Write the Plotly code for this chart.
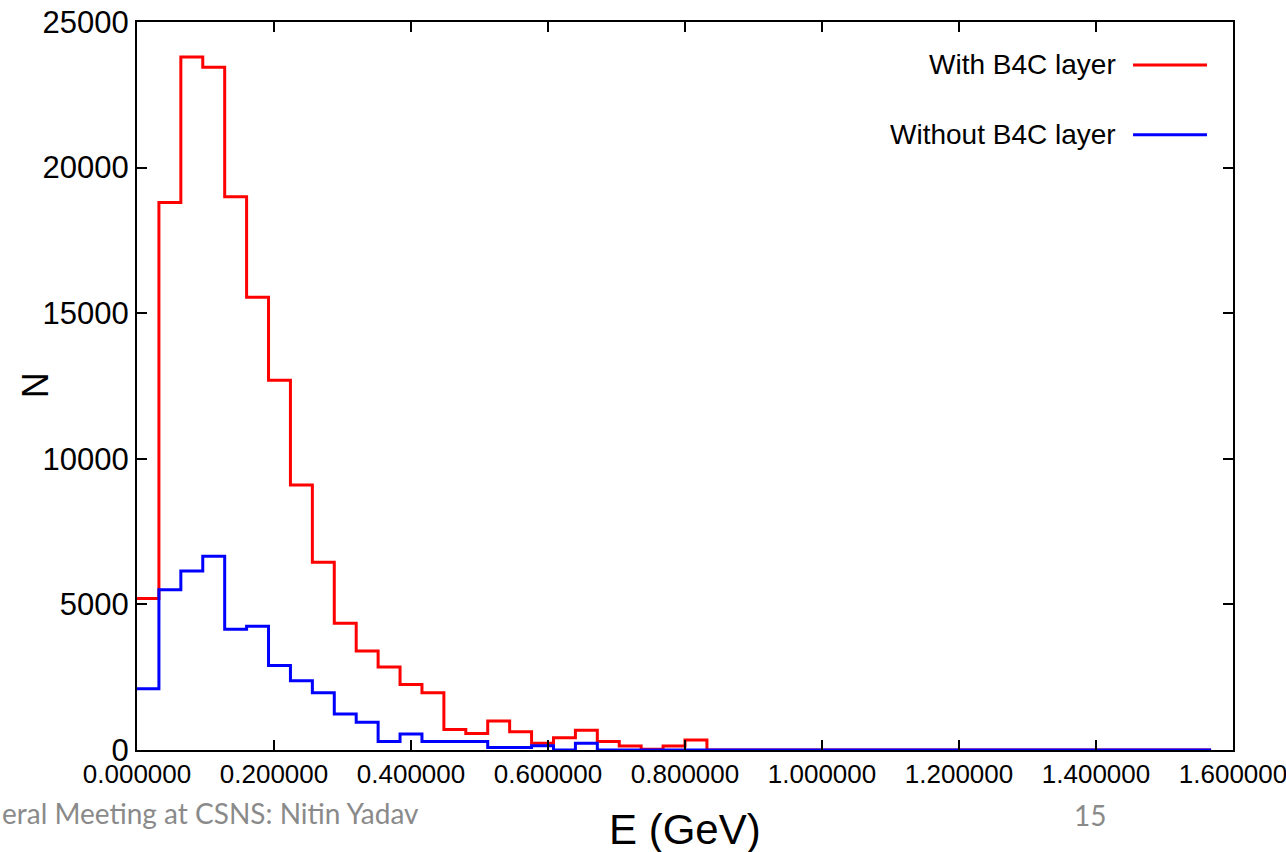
import numpy as np
import plotly.graph_objects as go

# Energy deposit histogram: 50 bins of 0.032 GeV starting at 0
BIN_WIDTH = 0.032
N_BINS = 50
bin_edges = np.arange(N_BINS) * BIN_WIDTH

counts_with_b4c = [
    5200, 18800, 23800, 23450, 19000, 15550, 12700, 9100, 6450, 4350,
    3400, 2850, 2250, 1970, 700, 570, 1000, 630, 230, 420,
    680, 290, 140, 30, 140, 340, 0, 0, 0, 0,
    0, 0, 0, 0, 0, 0, 0, 0, 0, 0,
    0, 0, 0, 0, 0, 0, 0, 0, 0, 0,
]
counts_without_b4c = [
    2100, 5500, 6150, 6650, 4150, 4250, 2900, 2380, 1970, 1240,
    950, 290, 550, 290, 290, 290, 90, 90, 150, 0,
    230, 0, 0, 0, 0, 0, 0, 0, 0, 0,
    0, 0, 0, 0, 0, 0, 0, 0, 0, 0,
    0, 0, 0, 0, 0, 0, 0, 0, 0, 0,
]

x_ticks = [0.0, 0.2, 0.4, 0.6, 0.8, 1.0, 1.2, 1.4, 1.6]
y_ticks = [0, 5000, 10000, 15000, 20000, 25000]

RED = "#ff0000"
BLUE = "#0000ff"
FONT = "Liberation Sans, Arial, sans-serif"
FOOTER_FONT = "Lato, sans-serif"

fig = go.Figure()
fig.add_trace(go.Scatter(x=bin_edges, y=counts_with_b4c, mode="lines",
                         line=dict(color=RED, width=3, shape="hv"),
                         name="With B4C layer", showlegend=False))
fig.add_trace(go.Scatter(x=bin_edges, y=counts_without_b4c, mode="lines",
                         line=dict(color=BLUE, width=3, shape="hv"),
                         name="Without B4C layer", showlegend=False))

axis_common = dict(showgrid=False, zeroline=False, showline=True, linecolor="black",
                   linewidth=2, mirror="ticks", ticks="inside", ticklen=10,
                   tickwidth=2, tickcolor="black", automargin=False,
                   ticklabeloverflow="allow")

fig.update_xaxes(range=[0, 1.6], tickvals=x_ticks,
                 ticktext=[f"{v:.6f}" for v in x_ticks],
                 tickfont=dict(family=FONT, size=26, color="black"),
                 **axis_common)
fig.update_yaxes(range=[0, 25000], tickvals=y_ticks,
                 ticktext=[str(v) for v in y_ticks],
                 tickfont=dict(family=FONT, size=31, color="black"),
                 **axis_common)

annotations = [
    dict(text="N", x=-0.093, y=0.501, xref="paper", yref="paper", textangle=-90,
         xanchor="center", yanchor="middle", showarrow=False,
         font=dict(family=FONT, size=36, color="black")),
    dict(text="E (GeV)", x=0.5, y=-0.109, xref="paper", yref="paper",
         xanchor="center", yanchor="middle", showarrow=False,
         font=dict(family=FONT, size=42, color="black")),
    dict(text="eral Meeting at CSNS: Nitin Yadav", x=-0.125, y=-0.0865, xref="paper",
         yref="paper", xanchor="left", yanchor="middle", showarrow=False,
         font=dict(family=FOOTER_FONT, size=28, color="#8a8a8a")),
    dict(text="15", x=0.8695, y=-0.089, xref="paper", yref="paper",
         xanchor="center", yanchor="middle", showarrow=False,
         font=dict(family=FOOTER_FONT, size=28, color="#8a8a8a")),
]

# Key in the upper right: label text to the left of the line sample
legend_rows = [("With B4C layer", RED, 0.941), ("Without B4C layer", BLUE, 0.845)]
shapes = []
for label, color, ypos in legend_rows:
    annotations.append(dict(text=label, x=0.895, y=ypos, xref="paper", yref="paper",
                            xanchor="right", yanchor="middle", showarrow=False,
                            font=dict(family=FONT, size=28, color="black")))
    shapes.append(dict(type="line", xref="paper", yref="paper", x0=0.9088, x1=0.9763,
                       y0=ypos, y1=ypos, line=dict(color=color, width=3)))

fig.update_layout(
    width=1286, height=852,
    margin=dict(l=137, r=53, t=22, b=102),
    paper_bgcolor="white", plot_bgcolor="white",
    annotations=annotations, shapes=shapes,
    showlegend=False,
)

fig.write_html("out.html")
